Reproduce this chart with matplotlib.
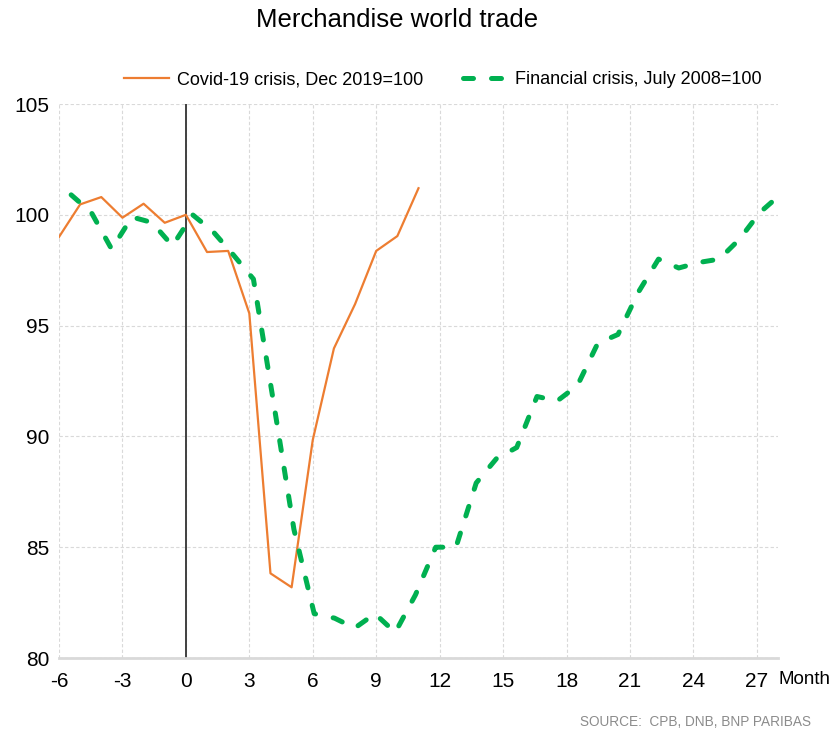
import matplotlib.pyplot as plt

# Covid-19 crisis, months relative to Dec 2019
months_covid = list(range(-6, 12))
covid = [99.0, 100.47, 100.8, 99.87, 100.5, 99.64, 100.0, 98.32, 98.37, 95.55,
         83.82, 83.19, 89.84, 93.97, 95.97, 98.37, 99.04, 101.2]

# Financial crisis, 36 months (own category axis, like the original)
months_fin = list(range(-6, 30))
financial = [100.9, 100.1, 98.45, 99.9, 99.65, 98.6, 100.0, 99.25, 98.2, 97.1,
             91.5, 85.8, 82.0, 81.8, 81.35, 82.0, 81.15, 82.85, 85.0, 85.0,
             87.9, 89.0, 89.5, 91.8, 91.6, 92.3, 94.2, 94.6, 96.5, 98.0,
             97.6, 97.85, 98.0, 98.9, 100.1, 100.9]

xticks = list(range(-6, 28, 3))
yticks = [80, 85, 90, 95, 100, 105]

plt.rcParams['font.family'] = ['Liberation Sans', 'DejaVu Sans']
plt.rcParams['axes.unicode_minus'] = False

W, H = 831, 733
fig = plt.figure(figsize=(W / 100, H / 100), dpi=100)
ax = fig.add_axes([59 / W, 1 - 658 / H, (778 - 59) / W, (658 - 104) / H])
ax.set_xlim(-6, 28)
ax.set_ylim(80, 105)
ax.set_xticks(xticks)
ax.set_yticks(yticks)
ax.tick_params(length=0, labelsize=15, colors='black')
ax.tick_params(axis='y', pad=7)
ax.tick_params(axis='x', pad=10)
ax.grid(True, color='#d9d9d9', linestyle=(0, (3, 2)), linewidth=0.8)
ax.set_axisbelow(True)
for s in ['top', 'right', 'left']:
    ax.spines[s].set_visible(False)
ax.spines['bottom'].set_color('#d9d9d9')
ax.spines['bottom'].set_linewidth(2)

ax.axvline(0, color='#404040', lw=1.4)
l1, = ax.plot(months_covid, covid, color='#ED7D31', lw=1.6,
              label='Covid-19 crisis, Dec 2019=100')

ax2 = ax.twiny()
ax2.set_xlim(-6.6, 28.9)
ax2.set_axis_off()
l2, = ax2.plot(months_fin, financial, color='#00B050', lw=3.6,
               linestyle=(0, (2.0, 3.6)), dash_capstyle='round',
               label='Financial crisis, July 2008=100')

fig.legend(handles=[l1, l2], loc='center', bbox_to_anchor=(443 / W, 1 - 80 / H),
           ncol=2, frameon=False, fontsize=13, handlelength=2.5,
           handletextpad=0.4, columnspacing=2.2)

fig.text(397 / W, 1 - 20 / H, 'Merchandise world trade', ha='center', va='center',
         fontsize=18.5)
fig.text(778 / W, 1 - 679 / H, 'Month', ha='left', va='center', fontsize=13.5)
fig.text(811 / W, 1 - 722 / H, 'SOURCE:  CPB, DNB, BNP PARIBAS', ha='right',
         va='center', fontsize=9.8, color='#8c8c8c')

fig.savefig('out.png', dpi=100)
